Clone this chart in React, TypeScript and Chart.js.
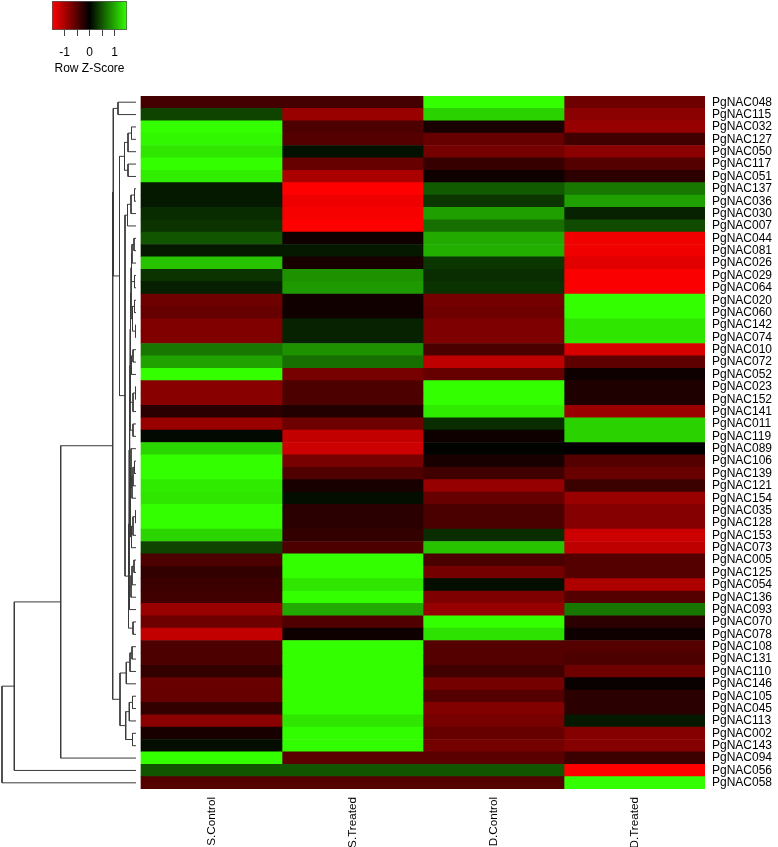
import React, { useEffect, useRef } from 'react';
import { Chart, registerables } from 'chart.js';

Chart.register(...registerables);

// ---------------- data ----------------
const genes = [
  'PgNAC048', 'PgNAC115', 'PgNAC032', 'PgNAC127', 'PgNAC050', 'PgNAC117', 'PgNAC051', 'PgNAC137',
  'PgNAC036', 'PgNAC030', 'PgNAC007', 'PgNAC044', 'PgNAC081', 'PgNAC026', 'PgNAC029', 'PgNAC064',
  'PgNAC020', 'PgNAC060', 'PgNAC142', 'PgNAC074', 'PgNAC010', 'PgNAC072', 'PgNAC052', 'PgNAC023',
  'PgNAC152', 'PgNAC141', 'PgNAC011', 'PgNAC119', 'PgNAC089', 'PgNAC106', 'PgNAC139', 'PgNAC121',
  'PgNAC154', 'PgNAC035', 'PgNAC128', 'PgNAC153', 'PgNAC073', 'PgNAC005', 'PgNAC125', 'PgNAC054',
  'PgNAC136', 'PgNAC093', 'PgNAC070', 'PgNAC078', 'PgNAC108', 'PgNAC131', 'PgNAC110', 'PgNAC146',
  'PgNAC105', 'PgNAC045', 'PgNAC113', 'PgNAC002', 'PgNAC143', 'PgNAC094', 'PgNAC056', 'PgNAC058',
];

const columns = ['S.Control', 'S.Treated', 'D.Control', 'D.Treated'];

const sControl = [
  -0.4, 0.4, 1.5, 1.45, 1.35, 1.5, 1.4, 0.15, 0.15, 0.25,
  0.3, 0.5, 0.15, 1.15, 0.3, 0.18, -0.65, -0.6, -0.75, -0.75,
  0.7, 0.95, 1.5, -0.8, -0.8, -0.25, -0.9, 0.05, 1.25, 1.5,
  1.5, 1.38, 1.35, 1.5, 1.5, 1.25, 0.4, -0.45, -0.3, -0.35,
  -0.38, -0.9, -0.65, -1.15, -0.45, -0.45, -0.3, -0.62, -0.6, -0.3,
  -0.82, -0.15, 0.08, 1.5, 0.5, -0.5,
];
const sTreated = [
  -0.4, -0.9, -0.45, -0.5, 0.1, -0.6, -1.0, -1.5, -1.4, -1.45,
  -1.5, -0.1, 0.15, -0.15, 0.85, 0.9, -0.1, -0.1, 0.2, 0.2,
  0.85, 0.65, -0.7, -0.45, -0.45, -0.2, -0.65, -1.15, -1.2, -0.7,
  -0.47, -0.15, 0.08, -0.25, -0.25, -0.3, -0.45, 1.5, 1.5, 1.35,
  1.5, 1.0, -0.47, -0.08, 1.5, 1.5, 1.5, 1.5, 1.5, 1.5,
  1.35, 1.48, 1.48, -0.53, 0.5, -0.5,
];
const dControl = [
  1.5, 1.24, -0.15, -0.6, -0.68, -0.32, -0.09, 0.53, 0.32, 0.94,
  0.65, 1.0, 1.03, 0.32, 0.26, 0.29, -0.68, -0.65, -0.74, -0.74,
  -0.44, -1.12, -0.6, 1.5, 1.5, 1.38, 0.26, -0.09, 0.02, -0.15,
  -0.38, -0.88, -0.6, -0.44, -0.44, 0.26, 1.15, -0.44, -0.68, 0.08,
  -0.74, -0.88, 1.5, 1.33, -0.5, -0.5, -0.38, -0.68, -0.5, -0.76,
  -0.7, -0.6, -0.68, -0.53, 0.5, -0.5,
];
const dTreated = [
  -0.65, -0.82, -0.88, -0.38, -0.82, -0.5, -0.26, 0.7, 0.94, 0.2,
  0.44, -1.42, -1.42, -1.32, -1.47, -1.47, 1.5, 1.5, 1.35, 1.35,
  -1.26, -0.56, -0.09, -0.18, -0.18, -0.91, 1.24, 1.24, 0, -0.5,
  -0.62, -0.35, -0.9, -0.78, -0.78, -1.2, -1.12, -0.5, -0.5, -1.03,
  -0.5, 0.7, -0.26, -0.08, -0.5, -0.45, -0.65, -0.05, -0.25, -0.25,
  0.15, -0.78, -0.78, -0.35, -1.5, 1.5,
];

// Row dendrogram (hclust style): negative = leaf (row order, 1-based), positive = earlier merge
const mergeA = [
  -1, -3, 2, -6, 3, -8, 6, 7, -12, 9,
  -15, 10, -17, -19, 13, 12, -21, 17, 16, -24,
  20, 19, -27, 22, -30, 25, 26, -29, -34, 29,
  30, 28, 24, -38, 34, 35, 36, 33, -43, 38,
  8, 5, 1, -45, 44, 45, -49, 47, -52, 48,
  46, 43, 52, 53, 54,
];
const mergeB = [
  -2, -4, -5, -7, 4, -9, -10, -11, -13, -14,
  -16, 11, -18, -20, 14, 15, -22, -23, 18, -25,
  -26, 21, -28, 23, -31, -32, -33, 27, -35, -36,
  -37, 31, 32, -39, -40, -41, -42, 37, -44, 39,
  40, 41, 42, -46, -47, -48, -50, -51, -53, 49,
  50, 51, -54, -55, -56,
];
const mergeHeight = [
  18, 4.5, 8, 8, 11.5, 1.5, 5, 8.5, 2, 4,
  1.5, 4.5, 1.5, 0.5, 3.5, 5, 3, 4.5, 5.5, 0.5,
  3, 5.8, 3, 6, 1.5, 3, 4, 5, 0.5, 3,
  4.5, 5.5, 6.4, 2, 4, 5, 6.5, 7, 3, 7.5,
  11, 16.5, 22.7, 4, 6, 9.7, 3.5, 6.7, 3.5, 10.3,
  16, 23.3, 75.3, 121.7, 134,
];

const keyTicks = [-1, -0.5, 0, 0.5, 1];
const keyRange = [-1.5, 1.5];

// ---------------- helpers ----------------
const FONT = "'Liberation Sans', Arial, Helvetica, sans-serif";

function zColor(z: number): string {
  const t = Math.min(1, Math.abs(z) / 1.5);
  if (z < 0) return `rgb(${Math.round(255 * t)},0,0)`;
  return `rgb(${Math.round(51 * t)},${Math.round(255 * t)},0)`;
}

// dendrogram height -> x value on the shared x axis (1 unit = one heatmap column)
const hToX = (h: number) => -(5 + h) / 141;

function buildDendrogram() {
  const nx: number[] = [];
  const ny: number[] = [];
  const pos = (ref: number) =>
    ref < 0 ? { x: hToX(0), y: -ref - 1 } : { x: nx[ref - 1], y: ny[ref - 1] };
  const segs: { x: number; y: number }[][] = [];
  for (let k = 0; k < mergeA.length; k++) {
    const a = pos(mergeA[k]);
    const b = pos(mergeB[k]);
    const x = hToX(mergeHeight[k]);
    nx.push(x);
    ny.push((a.y + b.y) / 2);
    segs.push([
      { x: a.x, y: a.y },
      { x, y: a.y },
      { x, y: b.y },
      { x: b.x, y: b.y },
    ]);
  }
  return segs;
}

export default function App() {
  const mainRef = useRef<HTMLCanvasElement>(null);
  const keyRef = useRef<HTMLCanvasElement>(null);

  useEffect(() => {
    const series = [sControl, sTreated, dControl, dTreated];
    const heatSets: any[] = series.map((vals, c) => ({
      type: 'bar',
      label: columns[c],
      data: vals.map((_, r) => ({ y: r, x: [c, c + 1] })),
      backgroundColor: vals.map(zColor),
      borderWidth: 0,
      barPercentage: 1,
      categoryPercentage: 1,
      grouped: false,
      xAxisID: 'x',
      yAxisID: 'y',
    }));
    const dendroSets: any[] = buildDendrogram().map((pts, i) => ({
      type: 'line',
      label: 'node' + i,
      data: pts,
      borderColor: '#3a3a3a',
      borderWidth: 1,
      pointRadius: 0,
      tension: 0,
      fill: false,
      xAxisID: 'x',
      yAxisID: 'y',
    }));

    const main = new Chart(mainRef.current!, {
      type: 'bar',
      data: { datasets: [...heatSets, ...dendroSets] },
      options: {
        animation: false,
        responsive: false,
        events: [],
        indexAxis: 'y',
        layout: { padding: { top: 96, left: 0, right: 0, bottom: 0 } },
        plugins: { legend: { display: false }, tooltip: { enabled: false } },
        scales: {
          x: {
            type: 'linear',
            min: -1,
            max: 4,
            offset: false,
            position: 'bottom',
            grid: { display: false, drawTicks: false, offset: false },
            border: { display: false },
            afterBuildTicks: (s: any) => {
              s.ticks = columns.map((_, i) => ({ value: i + 0.5 }));
            },
            afterFit: (s: any) => {
              s.height = 58;
            },
            ticks: {
              autoSkip: false,
              minRotation: 90,
              maxRotation: 90,
              padding: 8,
              color: '#000',
              font: { family: FONT, size: 11.7 },
              callback: (v: any) => columns[Math.floor(Number(v))],
            },
          },
          y: {
            type: 'linear',
            position: 'right',
            min: -0.5,
            max: genes.length - 0.5,
            reverse: true,
            offset: false,
            grid: { display: false, drawTicks: false, offset: false },
            border: { display: false },
            afterBuildTicks: (s: any) => {
              s.ticks = genes.map((_, i) => ({ value: i }));
            },
            afterFit: (s: any) => {
              s.width = 73;
            },
            ticks: {
              autoSkip: false,
              padding: 7,
              color: '#000',
              font: { family: FONT, size: 12 },
              callback: (v: any) => genes[Math.round(Number(v))],
            },
          },
        },
      } as any,
    });

    const key = new Chart(keyRef.current!, {
      type: 'bar',
      data: {
        labels: ['key'],
        datasets: [
          {
            data: [keyRange as any],
            backgroundColor: (ctx: any) => {
              const area = ctx.chart.chartArea;
              if (!area) return '#000';
              const g = ctx.chart.ctx.createLinearGradient(area.left, 0, area.right, 0);
              g.addColorStop(0, zColor(keyRange[0]));
              g.addColorStop(0.5, zColor(0));
              g.addColorStop(1, zColor(keyRange[1]));
              return g;
            },
            borderColor: '#555',
            borderWidth: 1,
            borderSkipped: false,
            barPercentage: 1,
            categoryPercentage: 1,
          } as any,
        ],
      },
      options: {
        animation: false,
        responsive: false,
        events: [],
        indexAxis: 'y',
        layout: { padding: { top: 1, left: 52, right: 73, bottom: 0 } },
        plugins: { legend: { display: false }, tooltip: { enabled: false } },
        scales: {
          y: { display: false },
          x: {
            type: 'linear',
            min: keyRange[0],
            max: keyRange[1],
            grid: {
              display: true,
              drawOnChartArea: false,
              drawTicks: true,
              tickLength: 6,
              color: '#444',
            },
            border: { display: false },
            afterBuildTicks: (s: any) => {
              s.ticks = keyTicks.map((v) => ({ value: v }));
            },
            afterFit: (s: any) => {
              s.height = 46;
            },
            ticks: {
              autoSkip: false,
              maxRotation: 0,
              padding: 9,
              color: '#000',
              font: { family: FONT, size: 12 },
              callback: (v: any) => (Number.isInteger(Number(v)) ? String(v) : ''),
            },
            title: {
              display: true,
              text: 'Row Z-Score',
              color: '#000',
              font: { family: FONT, size: 12 },
              padding: { top: 2, bottom: 0 },
            },
          },
        },
      } as any,
    });

    return () => {
      main.destroy();
      key.destroy();
    };
  }, []);

  return (
    <div style={{ position: 'fixed', left: 0, top: 0, width: 778, height: 847, background: '#fff' }}>
      <canvas
        ref={mainRef}
        width={778}
        height={847}
        style={{ position: 'absolute', left: 0, top: 0, width: 778, height: 847 }}
      />
      <canvas
        ref={keyRef}
        width={200}
        height={76}
        style={{ position: 'absolute', left: 0, top: 0, width: 200, height: 76 }}
      />
    </div>
  );
}
